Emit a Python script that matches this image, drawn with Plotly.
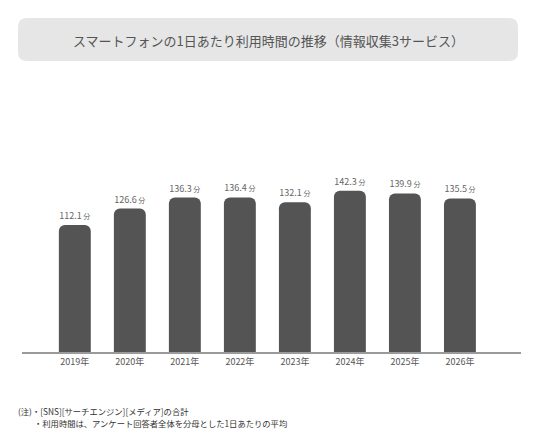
import plotly.graph_objects as go

# data
years = ["2019年", "2020年", "2021年", "2022年", "2023年", "2024年", "2025年", "2026年"]
minutes = [112.1, 126.6, 136.3, 136.4, 132.1, 142.3, 139.9, 135.5]

title_text = "スマートフォンの1日あたり利用時間の推移（情報収集3サービス）"
notes = ["(注)・[SNS][サーチエンジン][メディア]の合計",
         "・利用時間は、アンケート回答者全体を分母とした1日あたりの平均"]

font_jp = "Noto Sans CJK JP"
labels = [f"{v:.1f}<span style='font-size:7px'> 分</span>" for v in minutes]

W, H = 536, 447
OFF = 8  # page body margin shifts the plot by this much
ML, MR, MT, MB = 22 - OFF, 15 + OFF, 80 - OFF, 95 + OFF
pw, ph = W - ML - MR, H - MT - MB


def px(x):
    return (x - OFF - ML) / pw


def py(y):
    return (H - MB - (y - OFF)) / ph


def rounded_box(x0, y0, x1, y1, r):
    # rounded rect path in paper coords from pixel coords
    rx, ry = r / pw, r / ph
    a, b, c, d = px(x0), px(x1), py(y1), py(y0)
    return (f"M {a + rx},{c} L {b - rx},{c} Q {b},{c} {b},{c + ry} "
            f"L {b},{d - ry} Q {b},{d} {b - rx},{d} L {a + rx},{d} "
            f"Q {a},{d} {a},{d - ry} L {a},{c + ry} Q {a},{c} {a + rx},{c} Z")


fig = go.Figure()
fig.add_trace(go.Bar(
    x=years,
    y=minutes,
    width=0.58,
    marker=dict(color="#555454", cornerradius=6, line=dict(width=0)),
    text=labels,
    textposition="outside",
    cliponaxis=False,
    textfont=dict(family=font_jp, size=9, color="#666666"),
    hoverinfo="skip",
))

# title box
fig.add_shape(type="path", xref="paper", yref="paper",
              path=rounded_box(18, 18, 518, 61, 9),
              fillcolor="#e6e6e6", line=dict(width=0), layer="below")

fig.update_layout(
    width=W, height=H,
    margin=dict(l=ML, r=MR, t=MT, b=MB),
    paper_bgcolor="white",
    plot_bgcolor="white",
    showlegend=False,
    font=dict(family=font_jp, color="#555555"),
    xaxis=dict(
        type="category",
        range=[-0.96, 8.11],
        showgrid=False,
        zeroline=False,
        showline=True,
        linecolor="#9a9a9a",
        linewidth=1.5,
        ticks="",
        automargin=False,
        tickfont=dict(family=font_jp, size=9, color="#555555"),
    ),
    yaxis=dict(
        range=[0, 240],
        visible=False,
        showgrid=False,
        zeroline=False,
    ),
    annotations=[
        dict(text=title_text, xref="paper", yref="paper", x=px(268), y=py(40),
             yanchor="middle", showarrow=False,
             font=dict(family=font_jp, size=13, color="#555555")),
        dict(text=notes[0], xref="paper", yref="paper", x=px(16), y=py(411),
             xanchor="left", yanchor="middle", showarrow=False,
             font=dict(family=font_jp, size=8.3, color="#333333")),
        dict(text=notes[1], xref="paper", yref="paper", x=px(32), y=py(423),
             xanchor="left", yanchor="middle", showarrow=False,
             font=dict(family=font_jp, size=8.3, color="#333333")),
    ],
)

fig.write_html("out.html")
